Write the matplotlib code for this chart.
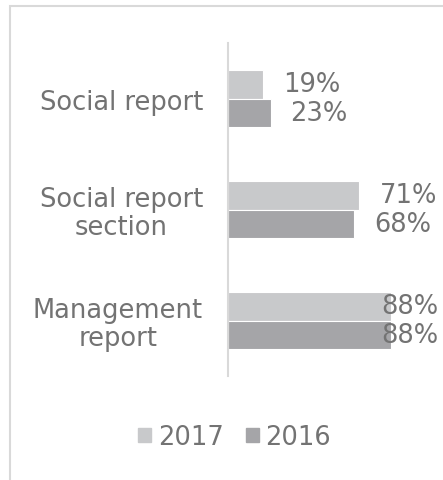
import numpy as np
import matplotlib.pyplot as plt
from matplotlib.patches import Rectangle, Patch

categories = ["Social report", "Social report\nsection", "Management\nreport"]
values_2017 = [0.19, 0.71, 0.88]
values_2016 = [0.23, 0.68, 0.88]
series_names = ["2017", "2016"]

C2017 = "#c8c9cb"
C2016 = "#a5a5a8"
TXT = "#737373"
FS = 18.5

W, H = 443, 481
fig = plt.figure(figsize=(W / 100, H / 100), dpi=100)

# light frame around the chart (cut off at right / bottom like the original)
fig.patches.append(Rectangle((10 / W, -0.1), 1.2, 1 - 7 / H + 0.1,
                             transform=fig.transFigure, fill=False,
                             edgecolor="#d9d9d9", linewidth=1.5))

left, right = 228 / W, 413.2 / W
top, bottom = 1 - 44 / H, 1 - 377 / H
ax = fig.add_axes([left, bottom, right - left, top - bottom])

pos = np.arange(len(categories))
h = 0.26
ax.barh(pos - h / 2, values_2017, height=h, color=C2017, edgecolor="white", linewidth=0.8)
ax.barh(pos + h / 2, values_2016, height=h, color=C2016, edgecolor="white", linewidth=0.8)

ax.set_xlim(0, 1.0)
ax.set_ylim(2.5, -0.5)

px = 1.0 / (413.2 - 228)  # data units per pixel
label_max = (438 - 228) * px
for vals, off in [(values_2017, -h / 2), (values_2016, h / 2)]:
    for p, v in zip(pos, vals):
        x = v + 20 * px
        if x + 57 * px > label_max:
            ax.text(label_max, p + off, f"{v:.0%}", ha="right", va="center",
                    fontsize=FS, color=TXT, clip_on=False)
        else:
            ax.text(x, p + off, f"{v:.0%}", ha="left", va="center",
                    fontsize=FS, color=TXT, clip_on=False)

ax.set_yticks(pos)
ax.set_yticklabels(categories, fontsize=FS, color=TXT, multialignment="center",
                   linespacing=1.08)
ax.tick_params(axis="y", length=0, pad=18)
ax.set_xticks([])
for s in ["top", "right", "bottom"]:
    ax.spines[s].set_visible(False)
ax.spines["left"].set_color("#d9d9d9")
ax.spines["left"].set_linewidth(1.5)

handles = [Patch(color=C2017), Patch(color=C2016)]
leg = fig.legend(handles, series_names, loc="center", bbox_to_anchor=(234.5 / W, 1 - 438 / H),
                 ncol=2, frameon=False, fontsize=FS, handlelength=0.5, handleheight=0.5,
                 handletextpad=0.27, columnspacing=0.86, borderpad=0)
for t in leg.get_texts():
    t.set_color(TXT)

fig.savefig("out.png", dpi=100)
